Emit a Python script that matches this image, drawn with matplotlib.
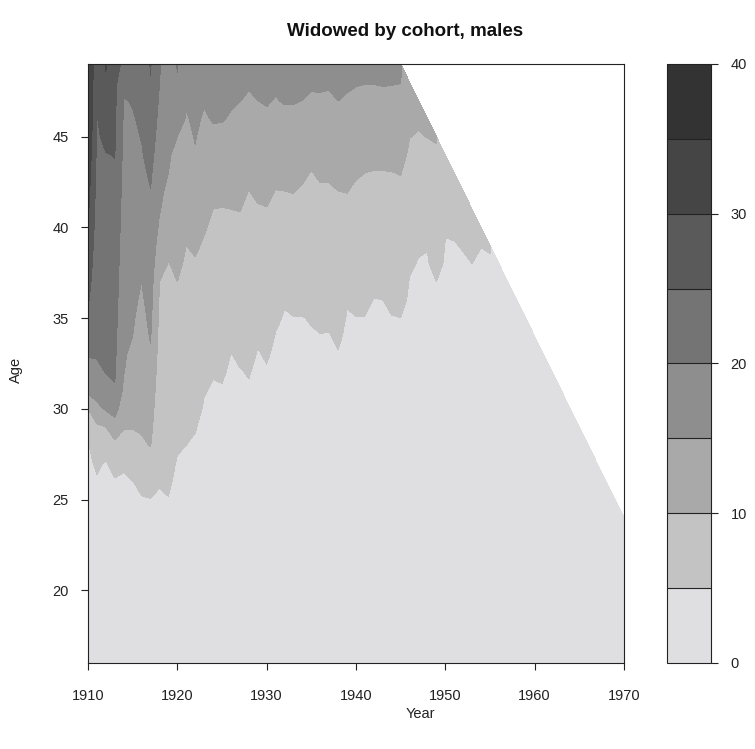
import numpy as np
import matplotlib
matplotlib.use("Agg")
import matplotlib.pyplot as plt

plt.rcParams['font.family'] = ['Liberation Sans', 'DejaVu Sans']

# cohort years and ages
years = list(range(1910, 1971))
ages = list(range(16, 50))
levels = [0, 5, 10, 15, 20, 25, 30, 35, 40]
colors = ['#dfdfe1', '#c3c3c3', '#a9a9a9', '#8e8e8e',
          '#747474', '#5a5a5a', '#454545', '#333333']
last_age_sum = 1994  # data available while cohort + age <= this

# age at which the cohort crosses each level (None = not reached)
t5 = [29.0, 26.8, 27.7, 26.7, 26.9, 26.2, 25.6, 25.3, 25.7, 25.2,
      27.6, 28.0, 28.8, 30.8, 31.8, 31.6, 33.2, 32.5, 31.8, 33.6,
      32.7, 34.5, 35.8, 35.3, 35.3, 34.8, 34.3, 34.5, 33.5, 35.8,
      35.3, 35.3, 36.3, 36.0, 35.4, 35.1, 37.6, 38.7, 38.9, 37.0,
      39.5, 39.3, 38.7, 38.0, 38.9, 38.6] + [None] * 15
t10 = [30.0, 29.4, 29.0, 28.4, 28.8, 28.8, 28.3, 27.8, 37.0, 38.3,
       37.0, 39.0, 38.5, 39.6, 41.0, 41.2, 41.0, 40.9, 42.1, 41.4,
       41.2, 42.1, 42.0, 41.9, 42.5, 43.2, 42.6, 42.6, 42.0, 41.9,
       42.7, 43.0, 43.2, 43.2, 43.1, 42.9, 44.8, 45.2, 44.8, 44.4] + [None] * 21
t15 = [30.6, 30.2, 29.8, 29.4, 31.5, 34.0, 37.0, 33.5, 40.5, 43.0,
       45.0, 46.3, 44.3, 46.4, 45.4, 45.5, 46.2, 46.8, 47.3, 47.0,
       46.4, 47.1, 46.5, 46.5, 47.0, 47.2, 47.2, 47.3, 46.9, 47.2,
       47.5, 47.7, 47.7, 47.5, 47.6, 47.8] + [None] * 25
t20 = [32.8, 32.3, 31.8, 31.1, 47.5, 46.5, 44.5, 42.2, 47.8, None,
       48.2] + [None] * 50
t25 = [35.5, 46.5, 44.3, 43.7, 49.3, None, None, 48.2] + [None] * 53
t30 = [40.0, None, 48.3] + [None] * 58
t35 = [46.0] + [None] * 60

thresholds = [t5, t10, t15, t20, t25, t30, t35]

yr = np.array(years, dtype=float)
ag = np.array(ages, dtype=float)
Z = np.zeros((len(ag), len(yr)))
for j in range(len(yr)):
    xs, vs = [10.0], [0.0]
    for lev, t in zip(levels[1:], thresholds):
        if t[j] is None:
            break
        xs.append(t[j])
        vs.append(float(lev))
    xs.append(60.0)
    vs.append(vs[-1] + 4.5)
    Z[:, j] = np.interp(ag, xs, vs)

YY, AA = np.meshgrid(yr, ag)
Z = np.ma.masked_where(YY + AA > last_age_sum, Z)

W, H = 755, 749
fig = plt.figure(figsize=(W / 100, H / 100), dpi=100)
ax = fig.add_axes([88 / W, (H - 663) / H, 536 / W, 599 / H])
cax = fig.add_axes([667 / W, (H - 663) / H, 44 / W, 599 / H])

cs = ax.contourf(yr, ag, Z, levels=levels, colors=colors, corner_mask=True)
ax.set_xlim(1910, 1970)
ax.set_ylim(16, 49)
ax.set_xticks([1910, 1920, 1930, 1940, 1950, 1960, 1970])
ax.set_yticks([20, 25, 30, 35, 40, 45])
ax.tick_params(direction='out', length=5, width=0.8, labelsize=10.5,
               colors='#222222')
ax.tick_params(axis='x', pad=13.5)
ax.tick_params(axis='y', pad=9)
for s in ax.spines.values():
    s.set_linewidth(0.8)
    s.set_color('#222222')

cb = fig.colorbar(cs, cax=cax, drawedges=True, ticks=[0, 10, 20, 30, 40])
cb.outline.set_linewidth(0.8)
cb.outline.set_edgecolor('#222222')
cb.dividers.set_color('#222222')
cb.dividers.set_linewidth(0.8)
cax.tick_params(direction='out', length=5, width=0.8, labelsize=10.5,
                pad=9, colors='#222222')

fig.text(405 / W, 1 - 32 / H, 'Widowed by cohort, males', ha='center',
         va='center', fontsize=13.5, fontweight='bold', color='#111111')
fig.text(420 / W, 1 - 714 / H, 'Year', ha='center', va='center',
         fontsize=10.5, color='#222222')
fig.text(16 / W, 1 - 370 / H, 'Age', ha='center', va='center',
         rotation=90, fontsize=10.5, color='#222222')

fig.savefig('out.png', dpi=100)
